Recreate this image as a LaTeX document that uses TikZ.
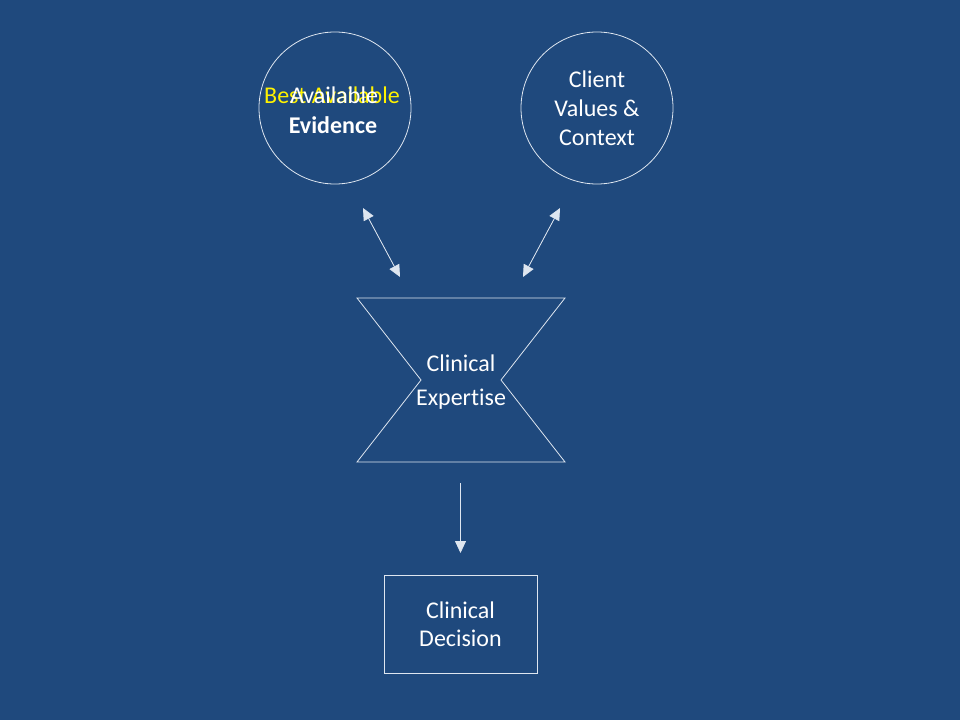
\documentclass[tikz,border=0pt]{standalone}
\usepackage{fontspec}
\setmainfont{Carlito}[Ligatures=NoCommon]
\usepackage{xcolor}
\usetikzlibrary{arrows.meta, positioning}
\definecolor{slideblue}{RGB}{31,73,125}
\definecolor{edgegray}{RGB}{222,230,240}
\tikzstyle{arrow} = [draw=edgegray, fill=white, line width=0.8pt, -{Triangle[length=12pt,width=11pt]}]
\tikzstyle{twoway} = [arrow, {Triangle[length=12pt,width=11pt]}-{Triangle[length=12pt,width=11pt]}]
\tikzstyle{circ} = [circle, draw=edgegray, line width=0.8pt, minimum size=152pt, inner sep=0pt]
\tikzstyle{txt} = [inner sep=0pt, text=white, align=center, font=\fontsize{24}{29}\selectfont]
\tikzstyle{box} = [rectangle, draw=edgegray, line width=0.8pt, minimum width=153pt, minimum height=98pt]

\begin{document}
\begin{tikzpicture}[x=1pt, y=-1pt]
    \fill[slideblue] (0,0) rectangle (960,720);
    \useasboundingbox (0,0) rectangle (960,720);

    % the two inputs
    \node (evid)   [circ] at (335,108) {};
    \node (best)   [txt, text=yellow] at (332,95) {Best Available};
    \node (avail)  [txt] at (334,95) {Available};
    \node (evtext) [txt, font=\fontsize{24}{29}\selectfont\bfseries] at (333,125) {Evidence};
    \node (client) [circ, txt] at (597,108) {Client\\Values \&\\Context};

    % hourglass
    \draw[edgegray, line width=0.8pt] (357,298) -- (565,298) -- (501,380) -- (565,462)
        -- (357,462) -- (421,380) -- cycle;
    \node (expert) [txt, font=\fontsize{24}{34}\selectfont] at (461,382) {Clinical\\Expertise};

    \node (decide) [box, txt, font=\fontsize{24}{28}\selectfont] at (460.5,624) {Clinical\\Decision};

    % connectors
    \coordinate (evlow)  at (363,208);
    \coordinate (exleft) at (400,277);
    \coordinate (cllow)  at (560,208);
    \coordinate (exright) at (523,277);
    \coordinate (exbase) at (460.5,483);
    \coordinate (detop)  at (460.5,553);

    \draw [twoway] (evlow) -- (exleft);
    \draw [twoway] (cllow) -- (exright);
    \draw [arrow]  (exbase) -- (detop);
\end{tikzpicture}
\end{document}
